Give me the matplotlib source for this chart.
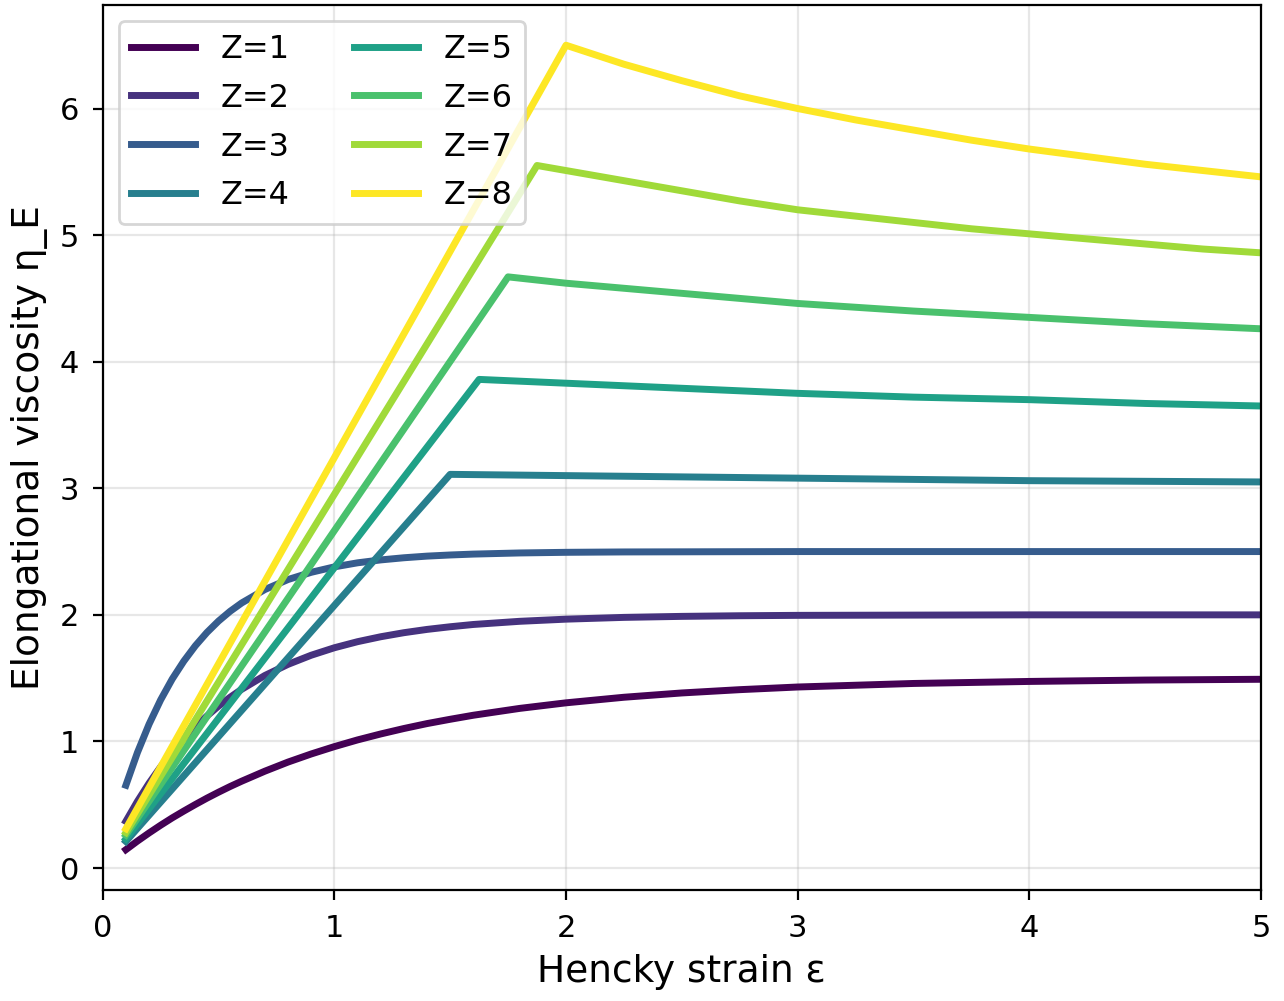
import numpy as np
import matplotlib
matplotlib.use('Agg')
import matplotlib.pyplot as plt

# values
x_rise = [0.1, 0.15, 0.2, 0.25, 0.3, 0.35, 0.4, 0.45, 0.5, 0.55, 0.6, 0.7, 0.8, 0.9, 1.0,
          1.1, 1.2, 1.3, 1.4, 1.5, 1.6, 1.8, 2.0, 2.25, 2.5, 2.75, 3.0, 3.5, 4.0, 4.5, 5.0]
eta_z1 = [0.145, 0.213, 0.277, 0.338, 0.396, 0.450, 0.502, 0.552, 0.599, 0.644, 0.686, 0.765, 0.837, 0.901, 0.959,
          1.012, 1.059, 1.102, 1.141, 1.175, 1.207, 1.261, 1.305, 1.349, 1.383, 1.409, 1.430, 1.458, 1.474, 1.485, 1.491]
eta_z2 = [0.369, 0.527, 0.670, 0.799, 0.915, 1.021, 1.116, 1.201, 1.279, 1.349, 1.412, 1.521, 1.609, 1.681, 1.740,
          1.788, 1.827, 1.859, 1.885, 1.906, 1.924, 1.949, 1.966, 1.980, 1.988, 1.993, 1.996, 1.998, 2.0, 2.0, 2.0]
eta_z3 = [0.654, 0.913, 1.136, 1.328, 1.493, 1.634, 1.756, 1.861, 1.951, 2.028, 2.094, 2.200, 2.279, 2.336, 2.379,
          2.411, 2.434, 2.451, 2.464, 2.473, 2.480, 2.489, 2.494, 2.497, 2.498, 2.499, 2.5, 2.5, 2.5, 2.5, 2.5]

x_z4 = [0.1, 1.5, 2.0, 2.5, 3.0, 3.5, 4.0, 4.5, 5.0]
eta_z4 = [0.21, 3.11, 3.10, 3.09, 3.08, 3.07, 3.06, 3.055, 3.05]
x_z5 = [0.1, 1.625, 2.0, 2.5, 3.0, 3.5, 4.0, 4.5, 5.0]
eta_z5 = [0.23, 3.86, 3.83, 3.79, 3.75, 3.72, 3.70, 3.67, 3.65]
x_z6 = [0.1, 1.75, 2.0, 2.25, 2.5, 2.75, 3.0, 3.5, 4.0, 4.5, 5.0]
eta_z6 = [0.26, 4.67, 4.62, 4.58, 4.54, 4.50, 4.46, 4.40, 4.35, 4.30, 4.26]
x_z7 = [0.1, 1.875, 2.0, 2.25, 2.5, 2.75, 3.0, 3.25, 3.5, 3.75, 4.0, 4.25, 4.5, 4.75, 5.0]
eta_z7 = [0.28, 5.55, 5.51, 5.43, 5.35, 5.27, 5.20, 5.15, 5.10, 5.05, 5.01, 4.97, 4.93, 4.89, 4.86]
x_z8 = [0.1, 2.0, 2.25, 2.5, 2.75, 3.0, 3.25, 3.5, 3.75, 4.0, 4.25, 4.5, 4.75, 5.0]
eta_z8 = [0.31, 6.50, 6.35, 6.22, 6.10, 6.00, 5.91, 5.83, 5.75, 5.68, 5.62, 5.56, 5.51, 5.46]

xs = [x_rise, x_rise, x_rise, x_z4, x_z5, x_z6, x_z7, x_z8]
ys = [eta_z1, eta_z2, eta_z3, eta_z4, eta_z5, eta_z6, eta_z7, eta_z8]
labels = ['Z=1', 'Z=2', 'Z=3', 'Z=4', 'Z=5', 'Z=6', 'Z=7', 'Z=8']

cmap = matplotlib.colormaps['viridis']

fig = plt.figure(figsize=(6.42, 5.005), dpi=200)
ax = fig.add_axes([0.080, 0.111, 0.902, 0.884])
for i in range(len(labels)):
    ax.plot(xs[i], ys[i], color=cmap(i / 7), linewidth=2.5, label=labels[i])

ax.set_xlim(0, 5)
ax.grid(True, alpha=0.3)
ax.tick_params(labelsize=11, pad=5)
ax.set_xlabel('Hencky strain ε', fontsize=13.5)
ax.set_ylabel('Elongational viscosity η_E', fontsize=13.5)
ax.legend(ncol=2, loc='upper left', fontsize=11.5, labelspacing=0.56)

plt.savefig('out.png', dpi=200)
